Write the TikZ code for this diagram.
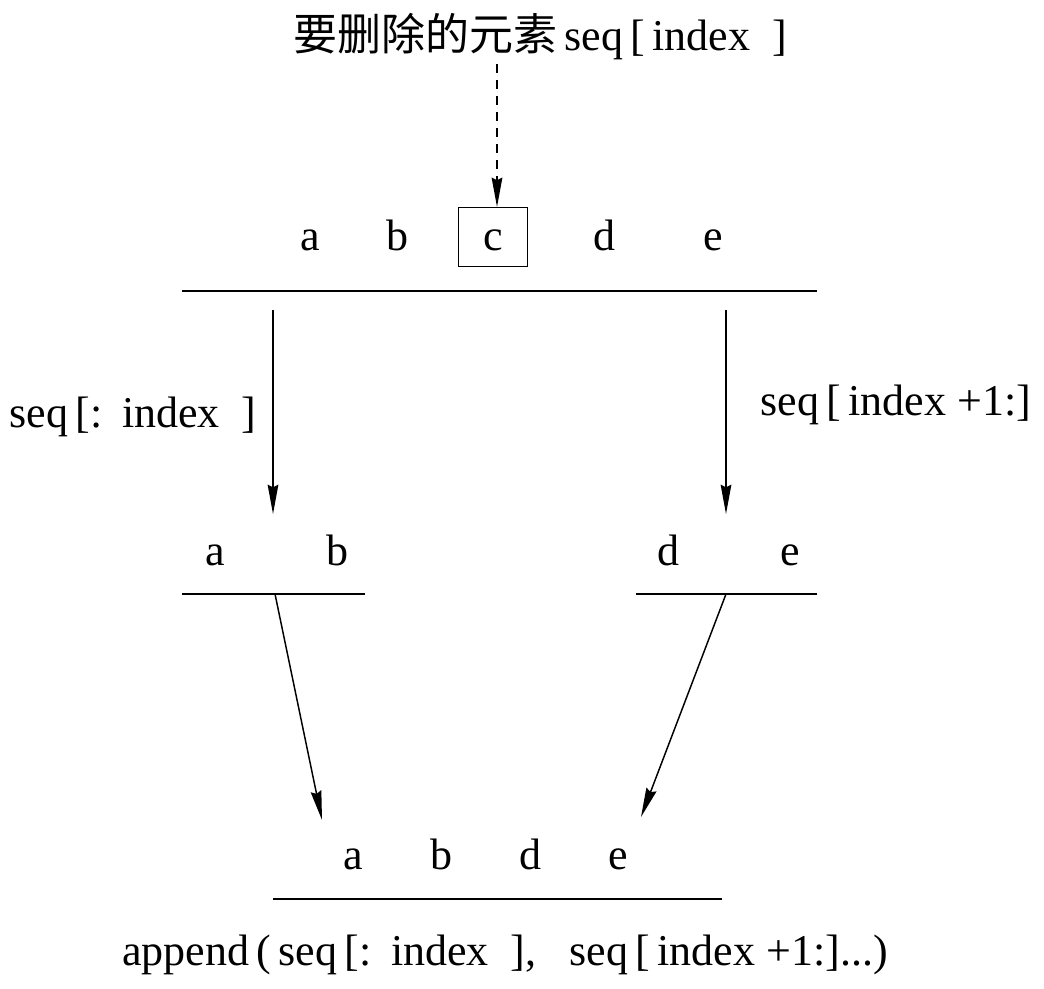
\documentclass[tikz,border=0pt]{standalone}
\usepackage{fontspec}
\setmainfont{Liberation Serif}
\newfontfamily\cjk{Noto Sans CJK SC}
\usetikzlibrary{arrows.meta}
\begin{document}
\begin{tikzpicture}[x=0.75pt,y=-0.75pt,
  every node/.style={font=\fontsize{33}{38}\selectfont, inner sep=0pt},
  bar/.style={line width=1.3pt},
  arr/.style={line width=1.1pt,-{Stealth[length=22pt,width=8pt,inset=2pt]}},
  darr/.style={arr, dash pattern=on 7pt off 5pt},
  elem/.style={anchor=base}]
\useasboundingbox (0,0) rectangle (1044,988);
% title
\node (title) at (540,37) {{\cjk 要删除的元素}\,seq\,[\,index~~]};
% top row
\node[elem] (ta) at (310,250) {a};
\node[elem] (tb) at (397,250) {b};
\node[elem] (tc) at (493,250) {c};
\node[elem] (td) at (604,250) {d};
\node[elem] (te) at (713,250) {e};
\node[draw, line width=1.1pt, minimum width=52pt, minimum height=44pt] (cbox) at (493,237) {};
\coordinate (tl) at (182,291);
\coordinate (tr) at (817,291);
\draw[bar] (tl) -- (tr);
\coordinate (dtop) at (497,64);
\draw[darr] (dtop) -- (cbox.north -| dtop);
% middle arrows
\coordinate (la0) at (273,310);
\coordinate (la1) at (273,514);
\coordinate (ra0) at (726,310);
\coordinate (ra1) at (726,514);
\draw[arr] (la0) -- (la1);
\draw[arr] (ra0) -- (ra1);
\node (llab) at (133,417) {seq\,[:\;\,index~~]};
\node (rlab) at (896,405) {seq\,[\,index~+1:]};
% middle rows
\node[elem] (ma) at (215,565) {a};
\node[elem] (mb) at (337,565) {b};
\node[elem] (md) at (668,565) {d};
\node[elem] (me) at (790,565) {e};
\coordinate (ml0) at (182,594);
\coordinate (ml1) at (365,594);
\coordinate (mr0) at (636,594);
\coordinate (mr1) at (817,594);
\draw[bar] (ml0) -- (ml1);
\draw[bar] (mr0) -- (mr1);
% lower arrows
\coordinate (ls) at (275,594);
\coordinate (le) at (322,820);
\coordinate (rs) at (726,594);
\coordinate (re) at (641,817);
\draw[arr] (ls) -- (le);
\draw[arr] (rs) -- (re);
% bottom row
\node[elem] (ba) at (353,869) {a};
\node[elem] (bb) at (441,869) {b};
\node[elem] (bd) at (530,869) {d};
\node[elem] (be) at (618,869) {e};
\coordinate (bl0) at (273,899);
\coordinate (bl1) at (722,899);
\draw[bar] (bl0) -- (bl1);
\node (btext) at (505,955) {append\,(\,seq\,[:\;\,index~~],~~~seq\,[\,index~+1:]...)};
\end{tikzpicture}
\end{document}
